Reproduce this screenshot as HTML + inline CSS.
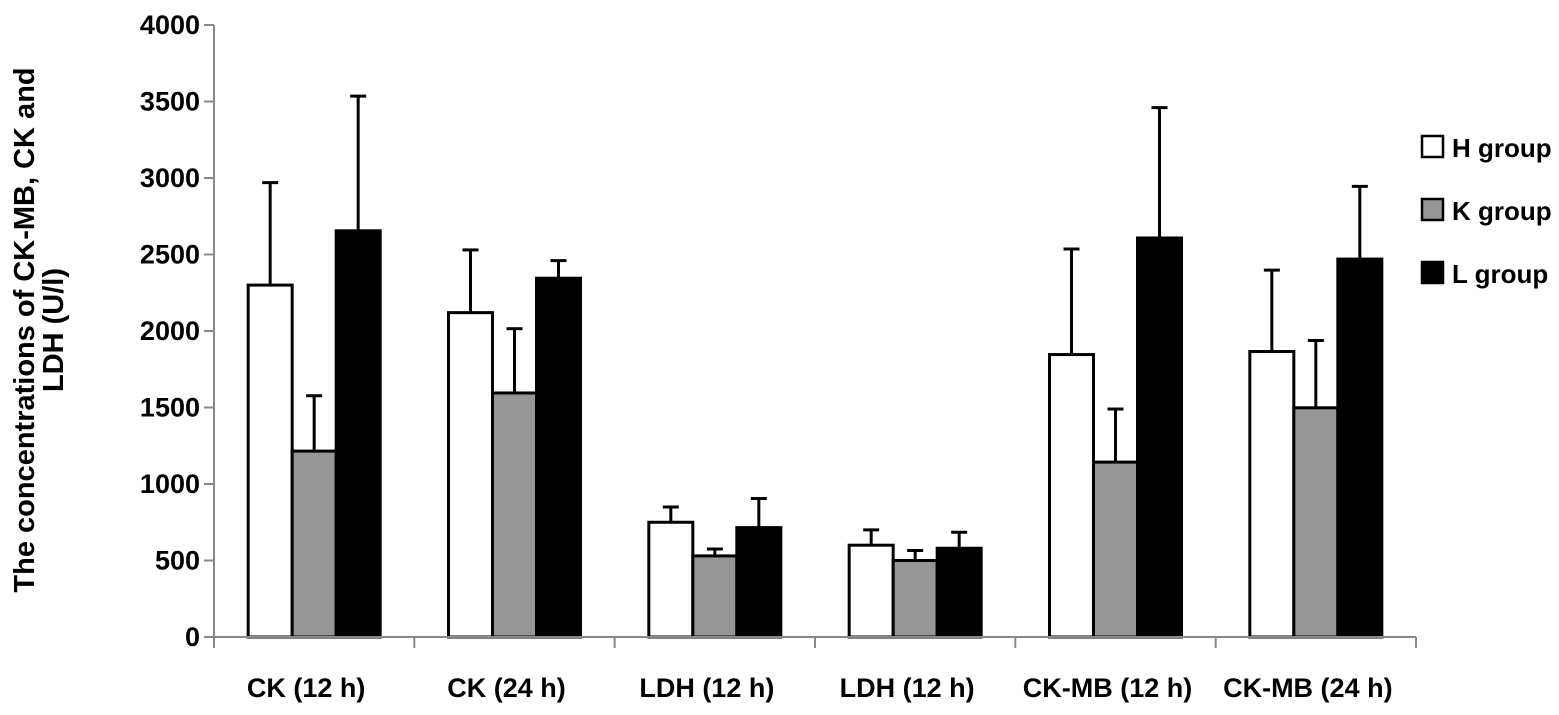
<!DOCTYPE html>
<html><head><meta charset="utf-8"><style>
body{margin:0;background:#fff}
svg text{font-family:"Liberation Sans",Arial,sans-serif;font-weight:bold;fill:#000}
</style></head><body>
<svg id="chart" width="1559" height="710" viewBox="0 0 1559 710" xmlns="http://www.w3.org/2000/svg">
<g id="ytitle">
<text transform="translate(34,330) rotate(-90)" text-anchor="middle" font-size="29">The concentrations of CK-MB, CK and</text>
<text transform="translate(63,330) rotate(-90)" text-anchor="middle" font-size="29">LDH (U/l)</text>
</g>
<g id="plot"></g>
<g id="legend"></g>
</svg>
<script>
const categories=["CK (12 h)","CK (24 h)","LDH (12 h)","LDH (12 h)","CK-MB (12 h)","CK-MB (24 h)"];
const seriesNames=["H group","K group","L group"];
const hValues=[2300,2120,750,600,1846,1866];
const hErrors=[2970,2530,850,700,2536,2398];
const kValues=[1215,1595,530,500,1143,1498];
const kErrors=[1577,2015,575,565,1490,1938];
const lValues=[2655,2345,715,580,2608,2470];
const lErrors=[3535,2460,905,685,3460,2945];
const yTicks=[0,500,1000,1500,2000,2500,3000,3500,4000];

const NS="http://www.w3.org/2000/svg";
const x0=214,x1=1416,y0=637,pxPer=76.5/500;
const catW=(x1-x0)/categories.length, barW=44;
const fills=["#fff","#969696","#000"];
const vals=[hValues,kValues,lValues], errs=[hErrors,kErrors,lErrors];
function y(v){return y0-v*pxPer;}
function xCat(i){return x0+catW*i;}
const plot=document.getElementById('plot');
function mk(tag,attrs,parent){const e=document.createElementNS(NS,tag);for(const k in attrs)e.setAttribute(k,attrs[k]);(parent||plot).appendChild(e);return e;}
yTicks.forEach(t=>{
  const l=mk('line',{x1:x0-10,x2:x0,y1:y(t),y2:y(t),stroke:'#888','stroke-width':2});
  
  
  const tx=mk('text',{x:x0-14,y:y(t)+9,'text-anchor':'end','font-size':27});
  tx.textContent=t;
  
  
});
categories.forEach((c,i)=>{
  const cx=xCat(i)+catW/2;
  for(let s=0;s<3;s++){
    const bx=cx-1.5*barW+s*barW;
    const e=mk('line',{x1:bx+barW/2,x2:bx+barW/2,y1:y(vals[s][i]),y2:y(errs[s][i]),stroke:'#000','stroke-width':3});
    
    
    const cap=mk('line',{x1:bx+barW/2-8,x2:bx+barW/2+8,y1:y(errs[s][i]),y2:y(errs[s][i]),stroke:'#000','stroke-width':3});
    
    
    const r=mk('rect',{x:bx,y:y(vals[s][i]),width:barW,height:y0-y(vals[s][i]),fill:fills[s],stroke:'#000','stroke-width':3});
    
    
  }
  const tl=mk('text',{x:cx-8,y:697,'text-anchor':'middle','font-size':27});
  tl.textContent=c;
  
  
});
for(let i=0;i<=categories.length;i++){
  const t=mk('line',{x1:xCat(i),x2:xCat(i),y1:y0,y2:y0+11,stroke:'#888','stroke-width':2});
  
  
}
const ya=mk('line',{x1:x0,x2:x0,y1:y(4000),y2:y0+1,stroke:'#888','stroke-width':2});


const xa=mk('line',{x1:x0-10,x2:x1,y1:y0,y2:y0,stroke:'#888','stroke-width':2});


const lg=document.getElementById('legend');
seriesNames.forEach((n,s)=>{
  const yy=136+s*63;
  const r=mk('rect',{x:1422,y:yy,width:21,height:21,fill:fills[s],stroke:'#000','stroke-width':2.5},lg);
  
  
  const t=mk('text',{x:1452,y:yy+21,'font-size':26},lg);
  t.textContent=n;
  
  
});
</script>
</body></html>
